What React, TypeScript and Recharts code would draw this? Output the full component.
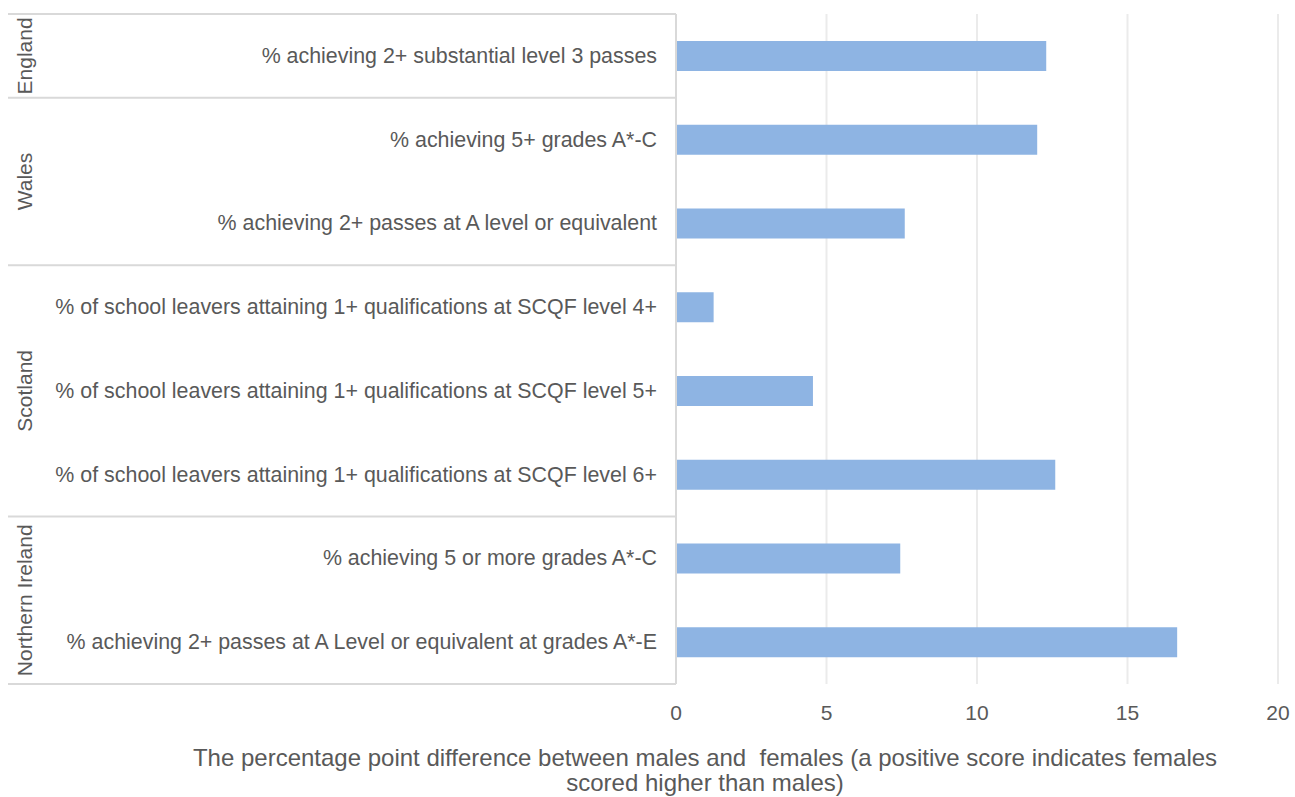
import React from 'react';
import { BarChart, Bar, XAxis, YAxis, CartesianGrid } from 'recharts';

const categories = [
  '% achieving 2+ substantial level 3 passes',
  '% achieving 5+ grades A*-C',
  '% achieving 2+ passes at A level or equivalent',
  '% of school leavers attaining 1+ qualifications at SCQF level 4+',
  '% of school leavers attaining 1+ qualifications at SCQF level 5+',
  '% of school leavers attaining 1+ qualifications at SCQF level 6+',
  '% achieving 5 or more grades A*-C',
  '% achieving 2+ passes at A Level or equivalent at grades A*-E',
];
const categoryGroups = [
  'England',
  'Wales',
  'Wales',
  'Scotland',
  'Scotland',
  'Scotland',
  'Northern Ireland',
  'Northern Ireland',
];
const values = [12.3, 12.0, 7.6, 1.25, 4.55, 12.6, 7.45, 16.65];
const xTicks = [0, 5, 10, 15, 20];
const titleLines = [
  'The percentage point difference between males and  females (a positive score indicates females',
  'scored higher than males)',
];

const data = categories.map((label, i) => ({ label, group: categoryGroups[i], value: values[i] }));

const PAGE_W = 1295;
const PAGE_H = 797;
const PAD = 8;
const W = PAGE_W - PAD;
const H = PAGE_H - PAD;
const TOP = 6;
const AXIS_X = 668;
const PLOT_BOTTOM = 676;
const BAND = (PLOT_BOTTOM - TOP) / categories.length;
const TEXT = '#595959';
const BORDER = '#d9d9d9';
const FONT = '"Liberation Sans", Arial, sans-serif';

const CategoryTick = (props: any) => {
  const { y, payload } = props;
  const i = categories.indexOf(payload.value);
  const g = categoryGroups[i];
  const first = i === 0 || categoryGroups[i - 1] !== g;
  const last = i === categories.length - 1;
  const count = categoryGroups.filter((c) => c === g).length;
  const top = y - BAND / 2;
  const gy = top + (count * BAND) / 2;
  return (
    <g>
      <text x={AXIS_X - 19} y={y} textAnchor="end" dominantBaseline="central" fontSize={21.4} fill={TEXT} fontFamily={FONT}>
        {payload.value}
      </text>
      {first && <line x1={0} x2={AXIS_X} y1={top} y2={top} stroke={BORDER} strokeWidth={2} />}
      {last && <line x1={0} x2={AXIS_X} y1={y + BAND / 2} y2={y + BAND / 2} stroke={BORDER} strokeWidth={2} />}
      {first && (
        <text
          x={16}
          y={gy}
          transform={`rotate(-90, 16, ${gy})`}
          textAnchor="middle"
          dominantBaseline="central"
          fontSize={21}
          fill={TEXT}
          fontFamily={FONT}
        >
          {g}
        </text>
      )}
    </g>
  );
};

export default function App() {
  // the default body margin clips the "20" tick, so the margin is drawn inside instead
  React.useLayoutEffect(() => {
    document.body.style.margin = '0';
  }, []);

  return (
    <div style={{ position: 'relative', width: PAGE_W, height: PAGE_H, background: '#fff', overflow: 'hidden' }}>
      <div style={{ position: 'absolute', left: PAD, top: PAD }}>
        <BarChart
          width={W}
          height={H}
          data={data}
          layout="vertical"
          margin={{ top: TOP, right: W - 1270, bottom: 0, left: 0 }}
          barSize={30}
        >
          <CartesianGrid horizontal={false} stroke="#ebebeb" strokeWidth={2} />
          <XAxis
            type="number"
            domain={[0, 20]}
            ticks={xTicks}
            axisLine={false}
            tickLine={false}
            height={H - PLOT_BOTTOM}
            tickMargin={15}
            tick={{ fontSize: 21, fill: TEXT, fontFamily: FONT }}
          />
          <YAxis
            type="category"
            dataKey="label"
            width={AXIS_X}
            interval={0}
            axisLine={{ stroke: BORDER, strokeWidth: 2 }}
            tickLine={false}
            tick={<CategoryTick />}
          />
          <Bar dataKey="value" fill="#8EB4E3" isAnimationActive={false} />
        </BarChart>
      </div>
      <div
        style={{
          position: 'absolute',
          left: 105,
          width: 1200,
          top: 745,
          textAlign: 'center',
          fontFamily: FONT,
          fontSize: 24,
          lineHeight: '25px',
          color: TEXT,
          whiteSpace: 'pre',
        }}
      >
        {titleLines.map((t) => (
          <div key={t}>{t}</div>
        ))}
      </div>
    </div>
  );
}
